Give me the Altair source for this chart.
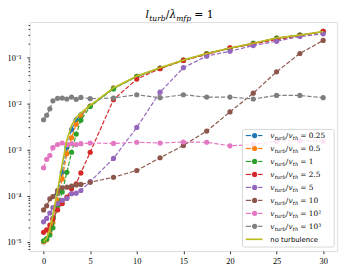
import altair as alt
import pandas as pd

# ---------------- data ----------------
x_vals = [0, 0.33, 0.67, 1, 1.5, 2, 2.5, 3, 3.5, 4, 5, 7.5, 10, 12.5, 15, 17.5, 20, 22.5, 25, 27.5, 30]

series_names = ["0.25", "0.5", "1", "2.5", "5", "10", "1e2", "1e3", "none"]
legend_values = ["0.25", "0.5", "1", "2.5", "5", "10", "10²", "10³"]
colors = ["#1f77b4", "#ff7f0e", "#2ca02c", "#d62728", "#9467bd",
          "#8c564b", "#e377c2", "#7f7f7f", "#bcbd22"]

y_025 = [1.0e-5, 1.15e-5, 1.7e-5, 3.2e-5, 1.1e-4, 3.2e-4, 1.1e-3, 2.7e-3, 4.4e-3, 5.6e-3, 8.7e-3,
         0.0213, 0.0385, 0.058, 0.086, 0.12, 0.157, 0.20, 0.26, 0.30, 0.36]
y_05 = [1.0e-5, 1.1e-5, 1.5e-5, 2.6e-5, 8.0e-5, 2.3e-4, 8.1e-4, 1.8e-3, 3.5e-3, 5.4e-3, 8.7e-3,
        0.0213, 0.0385, 0.058, 0.086, 0.12, 0.157, 0.20, 0.26, 0.30, 0.36]
y_1 = [1.05e-5, 1.15e-5, 1.4e-5, 2.0e-5, 6.0e-5, 1.2e-4, 3.2e-4, 8.7e-4, 2.15e-3, 4.3e-3, 8.5e-3,
       0.0205, 0.038, 0.057, 0.085, 0.118, 0.155, 0.198, 0.255, 0.30, 0.35]
y_25 = [1.6e-5, 1.8e-5, 2.3e-5, 3.1e-5, 4.9e-5, 6.7e-5, 9.3e-5, 1.4e-4, 1.8e-4, 3.1e-4, 8.7e-4,
        0.012, 0.0335, 0.056, 0.085, 0.114, 0.158, 0.19, 0.24, 0.29, 0.36]
y_5 = [2.7e-5, 3.2e-5, 4.2e-5, 5.5e-5, 6.7e-5, 7.9e-5, 8.7e-5, 1.1e-4, 1.13e-4, 1.29e-4, 2.0e-4,
       6.4e-4, 3.0e-3, 0.0174, 0.059, 0.105, 0.134, 0.178, 0.22, 0.28, 0.32]
y_10 = [4.9e-5, 6.0e-5, 8.5e-5, 9.5e-5, 1.29e-4, 1.48e-4, 1.52e-4, 1.6e-4, 1.7e-4, 1.75e-4, 1.94e-4,
        2.5e-4, 3.5e-4, 6.6e-4, 1.22e-3, 2.5e-3, 6.5e-3, 0.0166, 0.048, 0.12, 0.23]
y_1e2 = [4.0e-4, 6.1e-4, 7.4e-4, 1.09e-3, 1.28e-3, 1.38e-3, 1.28e-3, 1.33e-3, 1.28e-3, 1.33e-3, 1.38e-3,
         1.35e-3, 1.43e-3, 1.38e-3, 1.45e-3, 1.43e-3, 1.2e-3, 1.28e-3, 1.5e-3, 1.55e-3, 1.5e-3]
y_1e3 = [4.4e-3, 5.5e-3, 7.6e-3, 0.0113, 0.0128, 0.0130, 0.0124, 0.0136, 0.0122, 0.0134, 0.0126,
         0.0130, 0.0153, 0.0132, 0.0153, 0.0136, 0.0136, 0.0124, 0.0148, 0.0148, 0.0132]
y_none = [1.0e-5, 1.2e-5, 1.9e-5, 3.8e-5, 1.3e-4, 4.8e-4, 1.6e-3, 3.3e-3, 4.9e-3, 6.2e-3, 9.0e-3,
          0.0215, 0.039, 0.059, 0.086, 0.12, 0.158, 0.20, 0.26, 0.30, 0.36]

x_ticks = [0, 5, 10, 15, 20, 25, 30]
y_major = [1e-5, 1e-4, 1e-3, 1e-2, 1e-1]
y_labels = ["10⁻⁶", "10⁻⁵", "10⁻⁴", "10⁻³", "10⁻²", "10⁻¹", "10⁰"]
title_parts = ["l", "turb", "/", "λ", "mfp", "= 1"]
legend_parts = ["v", "turb", "/", "v", "th"]
no_turb_label = "no turbulence"

# ---------------- tables ----------------
all_y = [y_025, y_05, y_1, y_25, y_5, y_10, y_1e2, y_1e3, y_none]
rows = []
for name, ys in zip(series_names, all_y):
    for xv, yv in zip(x_vals, ys):
        rows.append({"series": name, "x": xv, "y": yv})
df = pd.DataFrame(rows)

leg_df = pd.DataFrame({
    "row": list(range(len(legend_values))),
    "series": series_names[:8],
    "lbl": ["= " + v for v in legend_values],
})
leg_none = pd.DataFrame({"row": [8], "series": ["none"], "lbl": [no_turb_label]})
one = pd.DataFrame({"d": [0]})

y_lo, y_hi = 10 ** -5.2, 10 ** -0.24
y_minor = [m * 10.0 ** k for k in range(-6, 0) for m in range(2, 10) if y_lo <= m * 10.0 ** k <= y_hi]

major_test = "abs(datum.value / pow(10, round(log(datum.value)/LN10)) - 1) < 1e-6"
label_arr = "[" + ",".join("'" + s + "'" for s in y_labels) + "]"
label_expr = f"({major_test}) ? {label_arr}[round(log(datum.value)/LN10) + 6] : ''"

SERIF = "Liberation Serif"
MATH = "DejaVu Serif"

X = alt.X("x:Q", scale=alt.Scale(domain=[-1.5, 31.5], nice=False, zero=False),
          axis=alt.Axis(values=x_ticks, title=None, grid=False, domain=False,
                        tickSize=2.8, tickWidth=0.8, tickColor="black",
                        labelFont=SERIF, labelFontSize=8.5, labelColor="black", labelPadding=3))
Y = alt.Y("y:Q", scale=alt.Scale(type="log", domain=[y_lo, y_hi], nice=False),
          axis=alt.Axis(values=y_minor + y_major, title=None, grid=False, domain=False,
                        labelExpr=label_expr,
                        tickSize={"condition": {"test": major_test, "value": 2.8}, "value": 1.6},
                        tickWidth=0.8, tickColor="black",
                        labelFont=SERIF, labelFontSize=8.5, labelColor="black", labelPadding=6))
C = alt.Color("series:N", scale=alt.Scale(domain=series_names, range=colors), legend=None)

layers = []
for name in series_names[:8]:
    base = alt.Chart(df).transform_filter(alt.datum.series == name)
    layers.append(base.mark_line(strokeDash=[4.4, 1.9], strokeWidth=1.2).encode(x=X, y=Y, color=C))
    layers.append(base.mark_circle(size=28, opacity=1).encode(x=X, y=Y, color=C))
layers.append(alt.Chart(df).transform_filter(alt.datum.series == "none")
              .mark_line(strokeWidth=1.7).encode(x=X, y=Y, color=C))
data_layer = alt.layer(*layers)

# ---------------- legend ----------------
LY = alt.Y("row:Q", scale=alt.Scale(domain=[0, 8], range=[115.5, 221.1]), axis=None)
box = alt.Chart(one).mark_rect(fill="white", fillOpacity=0.8, stroke="#cccccc", strokeWidth=0.8,
                               cornerRadius=2).encode(
    x=alt.value(216.7), x2=alt.value(310), y=alt.value(109.3), y2=alt.value(229))
lg = alt.Chart(leg_df)
dash_l = lg.mark_rule(strokeWidth=1.2).encode(x=alt.value(220), x2=alt.value(225.5), y=LY, color=C)
dash_r = lg.mark_rule(strokeWidth=1.2).encode(x=alt.value(232.5), x2=alt.value(237), y=LY, color=C)
dots = lg.mark_circle(size=28, opacity=1).encode(x=alt.value(229), y=LY, color=C)
none_line = alt.Chart(leg_none).mark_rule(strokeWidth=1.7).encode(
    x=alt.value(220), x2=alt.value(237), y=LY, color=C)

piece_x = [245, 249.5, 260.8, 263.4, 267.9]
piece_style = [("italic", 7.5, 2.7), ("italic", 5.2, 4.4), ("normal", 7.5, 2.7),
               ("italic", 7.5, 2.7), ("italic", 5.2, 4.4)]
texts = []
for txt, px, (st, fs, dy) in zip(legend_parts, piece_x, piece_style):
    texts.append(lg.mark_text(text=txt, align="left", baseline="alphabetic", dy=dy, font=MATH,
                              fontStyle=st, fontSize=fs, color="black")
                 .encode(x=alt.value(px), y=LY))
texts.append(lg.mark_text(align="left", baseline="alphabetic", dy=2.7, font=MATH, fontSize=7.5,
                          color="black").encode(x=alt.value(275.5), y=LY, text="lbl:N"))
texts.append(alt.Chart(leg_none).mark_text(align="left", baseline="alphabetic", dy=2.5,
                                           font="DejaVu Sans", fontSize=7, color="black")
             .encode(x=alt.value(245), y=LY, text="lbl:N"))
legend_layer = alt.layer(box, dash_l, dash_r, dots, none_line, *texts)

# ---------------- title ----------------
title_x = [118, 121.8, 138.6, 142.3, 149.2, 167.6]
title_style = [("italic", 11, -4), ("italic", 7.7, -1.5), ("normal", 11, -4),
               ("italic", 11, -4), ("italic", 7.7, -1.5), ("normal", 11, -4)]
tl = []
for txt, px, (st, fs, py) in zip(title_parts, title_x, title_style):
    tl.append(alt.Chart(one).mark_text(text=txt, align="left", baseline="alphabetic", font=MATH,
                                       fontStyle=st, fontSize=fs, color="black")
              .encode(x=alt.value(px), y=alt.value(py)))
title_layer = alt.layer(*tl)

chart = (alt.layer(data_layer, legend_layer, title_layer)
         .resolve_scale(y="independent")
         .properties(width=313, height=233,
                     padding={"left": 22, "top": 12, "right": 8, "bottom": 14},
                     autosize=alt.AutoSizeParams(type="none"))
         .configure_view(stroke="black", strokeWidth=0.8)
         .configure(background="white"))

chart.save("out.html", embed_options={"renderer": "svg", "actions": False})
